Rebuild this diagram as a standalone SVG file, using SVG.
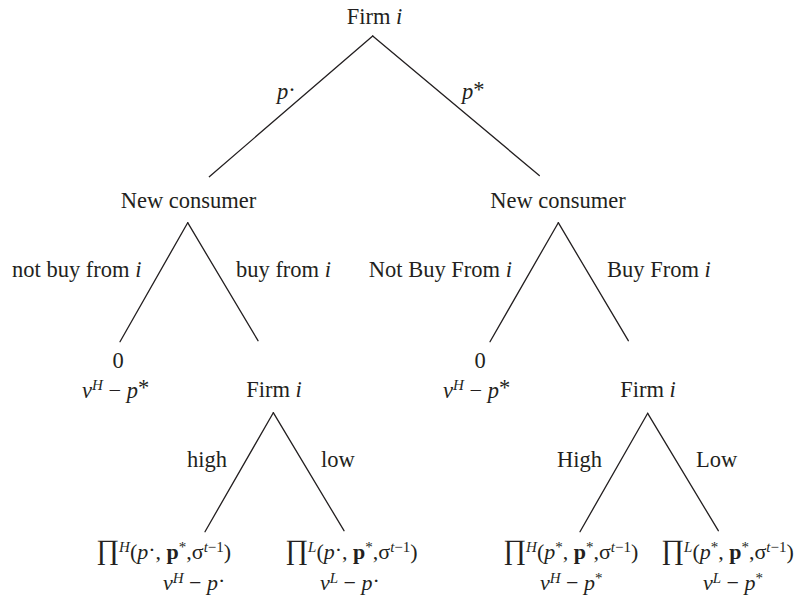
<svg xmlns="http://www.w3.org/2000/svg" width="802" height="599" viewBox="0 0 802 599">
<style>
text{font-family:"Liberation Serif","Times New Roman",serif;font-size:22.5px;fill:#231f20}
.i{font-style:italic}
.b{font-weight:bold}
.s{font-size:15px}
.m{text-anchor:middle}
.e{text-anchor:end}
.pr{font-size:28px}
.f{font-size:22px}
#edges line{stroke:#231f20;stroke-width:1.3;stroke-linecap:round}
</style>
<rect width="802" height="599" fill="#fff"/>
<g id="edges">
<line x1="372.7" y1="36" x2="209.3" y2="176.7"/>
<line x1="372.7" y1="36" x2="539.3" y2="175.5"/>
<line x1="187.7" y1="222.7" x2="120" y2="341.7"/>
<line x1="187.7" y1="222.7" x2="258" y2="340.7"/>
<line x1="558.3" y1="222.7" x2="490" y2="341.7"/>
<line x1="558.3" y1="222.7" x2="628.3" y2="340.7"/>
<line x1="273.3" y1="412.7" x2="205" y2="531.7"/>
<line x1="273.3" y1="412.7" x2="344" y2="530.7"/>
<line x1="647.7" y1="413.3" x2="580" y2="531.7"/>
<line x1="647.7" y1="413.3" x2="718.3" y2="530.7"/>
</g>
<g id="edge-labels">
<text x="277" y="99"><tspan class="i">p</tspan><tspan dy="-2">·</tspan></text>
<text x="462" y="99"><tspan class="i">p</tspan><tspan dy="-2">*</tspan></text>
<text x="12" y="277">not buy from <tspan class="i">i</tspan></text>
<text x="236" y="277">buy from <tspan class="i">i</tspan></text>
<text x="512" y="277" class="e">Not Buy From <tspan class="i">i</tspan></text>
<text x="607" y="277">Buy From <tspan class="i">i</tspan></text>
<text x="187" y="467">high</text>
<text x="321" y="467">low</text>
<text x="557" y="467">High</text>
<text x="696" y="467">Low</text>
</g>
<g id="n-root"><text x="374.5" y="24" class="m">Firm <tspan class="i">i</tspan></text></g>
<g id="n-consumer-left"><text x="188.5" y="208" class="m">New consumer</text></g>
<g id="n-consumer-right"><text x="558" y="208" class="m">New consumer</text></g>
<g id="n-leaf-left-not">
<text x="118" y="368" class="m">0</text>
<text x="82" y="398"><tspan class="i">v</tspan><tspan class="i s" dy="-8">H</tspan><tspan dy="8"> − </tspan><tspan class="i">p</tspan><tspan dy="-3">*</tspan></text>
</g>
<g id="n-firm-left"><text x="274" y="397" class="m">Firm <tspan class="i">i</tspan></text></g>
<g id="n-leaf-right-not">
<text x="480" y="368" class="m">0</text>
<text x="443" y="398"><tspan class="i">v</tspan><tspan class="i s" dy="-8">H</tspan><tspan dy="8"> − </tspan><tspan class="i">p</tspan><tspan dy="-3">*</tspan></text>
</g>
<g id="n-firm-right"><text x="648" y="397" class="m">Firm <tspan class="i">i</tspan></text></g>
<g id="n-leaf-ll">
<text x="96" y="559" class="f"><tspan class="pr">∏</tspan><tspan class="i s" dy="-7">H</tspan><tspan dy="7">(</tspan><tspan class="i">p</tspan><tspan dy="-2">·</tspan><tspan dy="2">, </tspan><tspan class="b">p</tspan><tspan class="s" dy="-7">*</tspan><tspan dy="7">,σ</tspan><tspan class="s i" dy="-7">t</tspan><tspan class="s">−1</tspan><tspan dy="7">)</tspan></text>
<text x="163" y="590" class="f"><tspan class="i">v</tspan><tspan class="i s" dy="-7">H</tspan><tspan dy="7"> − </tspan><tspan class="i">p</tspan><tspan dy="-2">·</tspan></text>
</g>
<g id="n-leaf-lr">
<text x="285" y="559" class="f"><tspan class="pr">∏</tspan><tspan class="i s" dy="-7">L</tspan><tspan dy="7">(</tspan><tspan class="i">p</tspan><tspan dy="-2">·</tspan><tspan dy="2">, </tspan><tspan class="b">p</tspan><tspan class="s" dy="-7">*</tspan><tspan dy="7">,σ</tspan><tspan class="s i" dy="-7">t</tspan><tspan class="s">−1</tspan><tspan dy="7">)</tspan></text>
<text x="320" y="590" class="f"><tspan class="i">v</tspan><tspan class="i s" dy="-7">L</tspan><tspan dy="7"> − </tspan><tspan class="i">p</tspan><tspan dy="-2">·</tspan></text>
</g>
<g id="n-leaf-rl">
<text x="503" y="559" class="f"><tspan class="pr">∏</tspan><tspan class="i s" dy="-7">H</tspan><tspan dy="7">(</tspan><tspan class="i">p</tspan><tspan class="s" dy="-7">*</tspan><tspan dy="7">, </tspan><tspan class="b">p</tspan><tspan class="s" dy="-7">*</tspan><tspan dy="7">,σ</tspan><tspan class="s i" dy="-7">t</tspan><tspan class="s">−1</tspan><tspan dy="7">)</tspan></text>
<text x="540" y="590" class="f"><tspan class="i">v</tspan><tspan class="i s" dy="-7">H</tspan><tspan dy="7"> − </tspan><tspan class="i">p</tspan><tspan class="s" dy="-7">*</tspan></text>
</g>
<g id="n-leaf-rr">
<text x="661" y="559" class="f"><tspan class="pr">∏</tspan><tspan class="i s" dy="-7">L</tspan><tspan dy="7">(</tspan><tspan class="i">p</tspan><tspan class="s" dy="-7">*</tspan><tspan dy="7">, </tspan><tspan class="b">p</tspan><tspan class="s" dy="-7">*</tspan><tspan dy="7">,σ</tspan><tspan class="s i" dy="-7">t</tspan><tspan class="s">−1</tspan><tspan dy="7">)</tspan></text>
<text x="703" y="590" class="f"><tspan class="i">v</tspan><tspan class="i s" dy="-7">L</tspan><tspan dy="7"> − </tspan><tspan class="i">p</tspan><tspan class="s" dy="-7">*</tspan></text>
</g>
</svg>
